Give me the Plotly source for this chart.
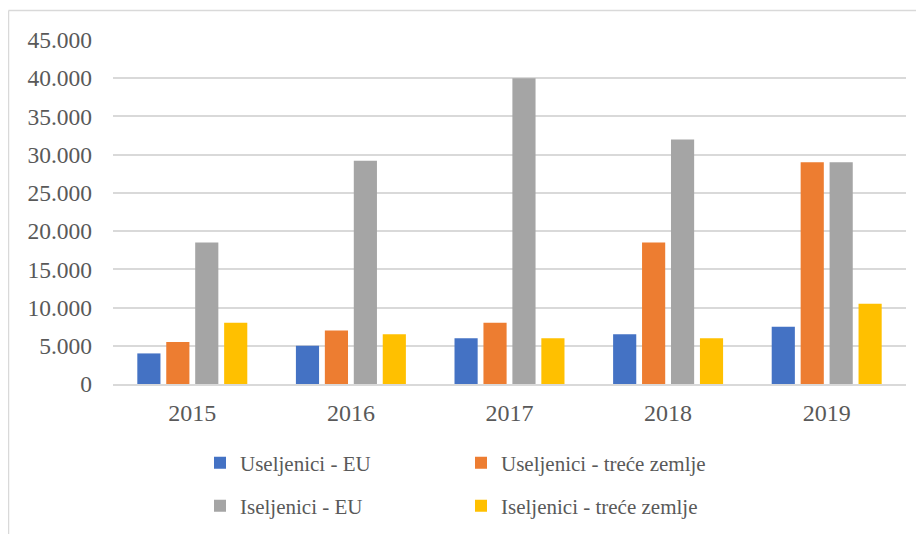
import plotly.graph_objects as go

years = ["2015", "2016", "2017", "2018", "2019"]
useljenici_eu = [4000, 5000, 6000, 6500, 7500]
useljenici_trece = [5500, 7000, 8000, 18500, 29000]
iseljenici_eu = [18500, 29200, 40000, 32000, 29000]
iseljenici_trece = [8000, 6500, 6000, 6000, 10500]

names = ["Useljenici - EU", "Useljenici - treće zemlje", "Iseljenici - EU", "Iseljenici - treće zemlje"]
colors = ["#4472C4", "#ED7D31", "#A5A5A5", "#FFC000"]
series = [useljenici_eu, useljenici_trece, iseljenici_eu, iseljenici_trece]
legends = ["legend", "legend", "legend2", "legend2"]

FONT = "Liberation Serif, Times New Roman, serif"
TXT = "#595959"
GRID = "#D9D9D9"

fig = go.Figure()
for n, c, s, lg in zip(names, colors, series, legends):
    fig.add_trace(go.Bar(x=years, y=s, name=n, marker=dict(color=c, line=dict(width=0)), legend=lg))

OFF = 8  # page body margin
W, H = 924, 534
# target screen coordinates of plot area
SL, SR, ST, SB = 113, 906, 40, 384
L, T = SL - OFF, ST - OFF
R, B = W - (SR - OFF), H - (SB - OFF)
pw, ph = SR - SL, SB - ST

def px(x):
    return (x - SL) / pw

def py(y):
    return (SB - y) / ph

LEGFONT = dict(size=21, color=TXT, family=FONT)

fig.update_layout(
    width=W, height=H,
    margin=dict(l=L, r=R, t=T, b=B),
    paper_bgcolor="white", plot_bgcolor="white",
    barmode="group", bargap=0.27, bargroupgap=0.2,
    separators=",.",
    font=dict(family=FONT, size=20, color=TXT),
    legend=dict(orientation="h", x=px(200), xanchor="left", y=py(463), yanchor="middle",
                entrywidth=216, entrywidthmode="pixels", font=LEGFONT,
                itemclick=False, traceorder="normal"),
    legend2=dict(orientation="h", x=px(200), xanchor="left", y=py(506), yanchor="middle",
                 entrywidth=216, entrywidthmode="pixels", font=LEGFONT,
                 itemclick=False, traceorder="normal"),
    xaxis=dict(showgrid=False, showline=True, linecolor=GRID, linewidth=1.5,
               ticks="", tickfont=dict(size=24, color=TXT, family=FONT), ticklabelstandoff=6),
    yaxis=dict(range=[0, 45000], tickvals=[0, 5000, 10000, 15000, 20000, 25000, 30000, 35000, 40000, 45000],
               tickformat=",.0f", showgrid=True, gridcolor=GRID, gridwidth=1.5,
               zeroline=False, showline=False, ticks="",
               tickfont=dict(size=23.5, color=TXT, family=FONT), ticklabelstandoff=20),
    shapes=[
        dict(type="line", xref="paper", yref="paper", x0=px(8.5), x1=px(940), y0=py(10.5), y1=py(10.5),
             line=dict(color=GRID, width=1.5)),
        dict(type="line", xref="paper", yref="paper", x0=px(8.5), x1=px(8.5), y0=py(10.5), y1=py(560),
             line=dict(color=GRID, width=1.5)),
    ],
)

fig.write_html("out.html")
